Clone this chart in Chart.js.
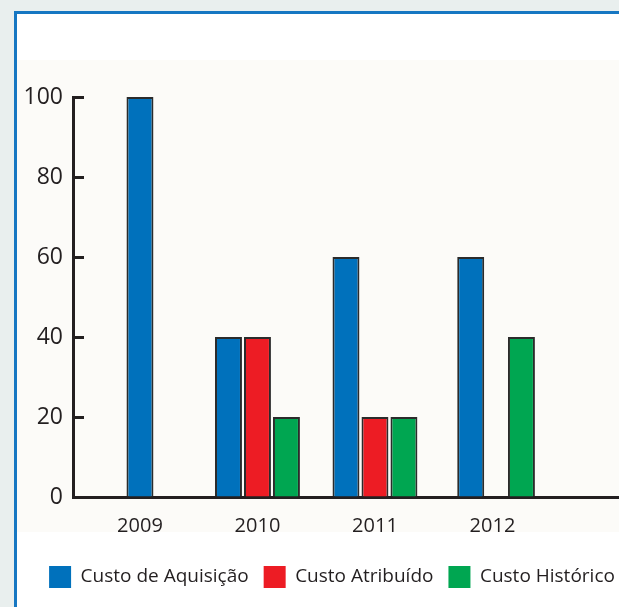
<!DOCTYPE html>
<html>
<head>
<meta charset="utf-8">
<script src="https://cdn.jsdelivr.net/npm/chart.js@4"></script>
<style>
  body { margin: 0; background: #e9efee; overflow: hidden; width: 619px; height: 607px; position: relative; }
  .frame { position: absolute; left: 14px; top: 11px; width: 700px; height: 700px; border: 3px solid #1677c2; background: #fff; }
  .tint { position: absolute; left: 17px; top: 60px; width: 640px; height: 472px; background: #fcfbf8; }
  canvas { position: absolute; left: 0; top: 0; }
</style>
</head>
<body>
<div class="frame"></div>
<div class="tint"></div>
<canvas id="myChart" width="680" height="607"></canvas>
<script>
const years = [2009, 2010, 2011, 2012];
const aquisicao = [100, 40, 60, 60];
const atribuido = [null, 40, 20, null];
const historico = [null, 20, 20, 40];
const yTicks = [0, 20, 40, 60, 80, 100];

const ink = '#231f20';
const font = 'Open Sans';

const points = vals => years.map((x, i) => ({ x: x, y: vals[i] }));

const ctx = document.getElementById('myChart');

new Chart(ctx, {
  type: 'bar',
  data: {
    datasets: [{
      label: 'Custo de Aquisição',
      data: points(aquisicao),
      backgroundColor: '#0071bc',
      skipNull: true
    }, {
      label: 'Custo Atribuído',
      data: points(atribuido),
      backgroundColor: '#ed1c24',
      skipNull: true
    }, {
      label: 'Custo Histórico',
      data: points(historico),
      backgroundColor: '#00a651'
    }]
  },
  options: {
    responsive: false,
    animation: false,
    devicePixelRatio: 1,
    categoryPercentage: 0.74,
    barPercentage: 0.93,
    maxBarThickness: 27,
    borderColor: '#2b2b2b',
    borderWidth: 2,
    layout: { padding: { top: 97, left: 0, right: 16, bottom: 9 } },
    scales: {
      x: {
        type: 'linear',
        offset: false,
        min: 2008.43,
        max: 2013.46,
        afterBuildTicks: s => { s.ticks = years.map(v => ({ value: v })); },
        afterFit: s => { s.height = 54; },
        grid: { display: false, drawTicks: false },
        border: { color: ink, width: 3 },
        ticks: {
          padding: 17,
          color: ink,
          font: { family: font, size: 20 },
          callback: v => String(v)
        }
      },
      y: {
        min: 0,
        max: 100,
        afterBuildTicks: s => { s.ticks = yTicks.map(v => ({ value: v })); },
        afterFit: s => { s.width = 73; },
        grid: { display: true, drawOnChartArea: false, drawTicks: true, tickLength: -11, tickWidth: 3, tickColor: ink },
        border: { color: ink, width: 3 },
        ticks: {
          padding: 21,
          color: ink,
          font: { family: font, size: 23 }
        }
      }
    },
    plugins: {
      tooltip: { enabled: false },
      legend: {
        position: 'bottom',
        align: 'center',
        labels: {
          boxWidth: 22,
          boxHeight: 22,
          padding: 15,
          color: ink,
          font: { family: font, size: 19 },
          generateLabels: chart => Chart.defaults.plugins.legend.labels.generateLabels(chart)
            .map(l => ({ ...l, lineWidth: 0 }))
        }
      }
    }
  }
});
</script>
</body>
</html>
